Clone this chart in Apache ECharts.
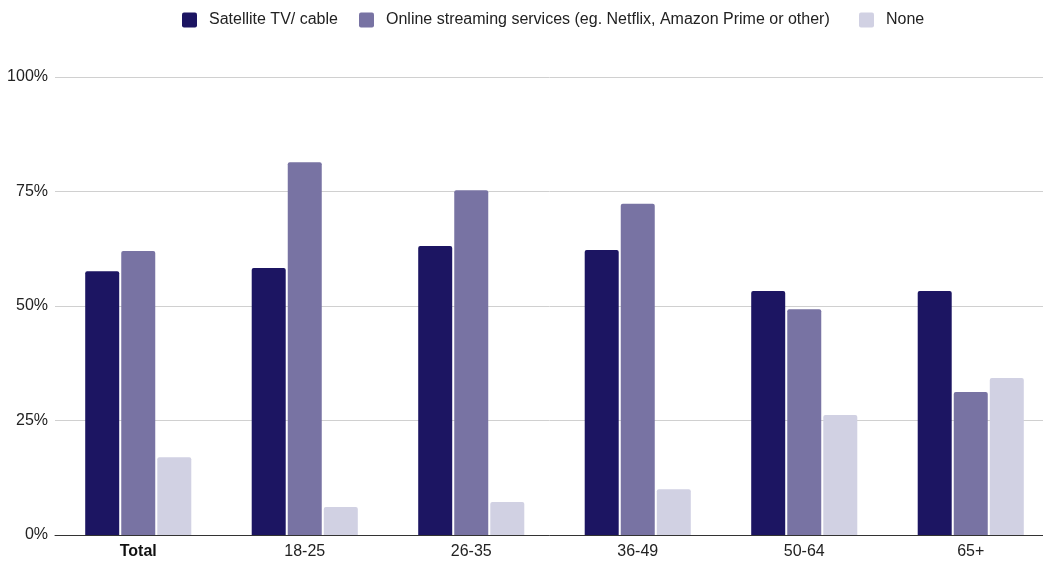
<!DOCTYPE html>
<html>
<head>
<meta charset="utf-8">
<script src="https://cdn.jsdelivr.net/npm/echarts@6/dist/echarts.min.js"></script>
<style>
  html, body { margin: 0; padding: 0; background: #fff; }
  #chart { width: 1043px; height: 562px; }
</style>
</head>
<body>
<div id="chart"></div>
<script>
const categories = ['Total', '18-25', '26-35', '36-49', '50-64', '65+'];
const satellite = [57.6, 58.3, 63.1, 62.2, 53.3, 53.3];
const streaming = [62.0, 81.4, 75.3, 72.3, 49.3, 31.2];
const none = [17.0, 6.1, 7.2, 10.0, 26.2, 34.3];
const yTicks = [0, 25, 50, 75, 100];

const seriesNames = ['Satellite TV/ cable', 'Online streaming services (eg. Netflix, Amazon Prime or other)', 'None'];
const colors = ['#1c1562', '#7873a3', '#d1d1e3'];
// left edge of each legend entry
const legendLeft = [182, 359, 859];

const chart = echarts.init(document.getElementById('chart'));
const font = 'Liberation Sans, Arial, sans-serif';

function bar(name, data, color) {
  return {
    name: name,
    type: 'bar',
    data: data,
    barWidth: 34,
    barGap: '6%',
    itemStyle: { color: color, borderRadius: [2, 2, 0, 0] },
    emphasis: { disabled: true }
  };
}

function legendEntry(name, left) {
  return {
    data: [name],
    top: 12,
    left: left,
    padding: 0,
    itemWidth: 15,
    itemHeight: 15,
    icon: 'path://M2,0 L13,0 Q15,0 15,2 L15,13 Q15,15 13,15 L2,15 Q0,15 0,13 L0,2 Q0,0 2,0 Z',
    textStyle: { fontSize: 16, color: '#222', fontFamily: font, padding: [0, 0, 0, 7] }
  };
}

chart.setOption({
  animation: false,
  color: colors,
  textStyle: { fontFamily: font },
  legend: seriesNames.map(function (n, i) { return legendEntry(n, legendLeft[i]); }),
  // plot area runs past the right edge of the canvas, as the gridlines do
  grid: { left: 55, width: 999, top: 77, bottom: 27, containLabel: false, outerBoundsMode: 'none' },
  xAxis: {
    type: 'category',
    data: categories,
    axisTick: { show: false },
    axisLine: { lineStyle: { color: '#333', width: 1 } },
    axisLabel: {
      fontSize: 16,
      color: '#222',
      margin: 9,
      formatter: function (v) { return v === 'Total' ? '{b|' + v + '}' : v; },
      rich: { b: { fontWeight: 'bold', fontSize: 16, color: '#111', fontFamily: font } }
    }
  },
  yAxis: {
    type: 'value',
    min: yTicks[0],
    max: yTicks[yTicks.length - 1],
    interval: 25,
    axisLabel: { fontSize: 16, color: '#222', margin: 7, formatter: '{value}%' },
    splitLine: { lineStyle: { color: '#d0d0d0', width: 1 } },
    axisLine: { show: false },
    axisTick: { show: false }
  },
  series: [
    bar(seriesNames[0], satellite, colors[0]),
    bar(seriesNames[1], streaming, colors[1]),
    bar(seriesNames[2], none, colors[2])
  ]
});
</script>
</body>
</html>
